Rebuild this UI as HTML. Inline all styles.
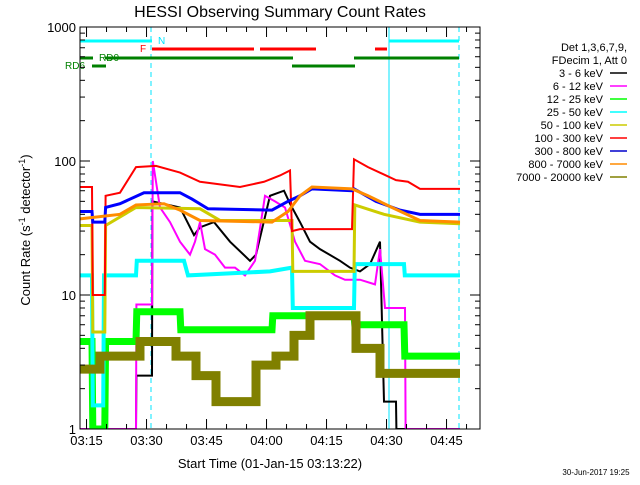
<!DOCTYPE html>
<html><head><meta charset="utf-8"><style>
body{margin:0;background:#fff;}
svg text{font-family:"Liberation Sans",sans-serif;}
</style></head><body>
<svg id="chart" width="640" height="480" viewBox="0 0 640 480">
<rect width="640" height="480" fill="#fff"/>
<text x="280" y="17" font-size="16" text-anchor="middle">HESSI Observing Summary Count Rates</text>
<defs><clipPath id="plotclip"><rect x="80" y="27" width="400" height="402"/></clipPath></defs>
<g id="grid"></g>
<g id="series" clip-path="url(#plotclip)"></g>
<g id="axes"></g>
<g id="legend"></g>
<text x="270" y="468" font-size="13" text-anchor="middle">Start Time (01-Jan-15 03:13:22)</text>
<text x="30" y="230" font-size="13" text-anchor="middle" transform="rotate(-90 30 230)">Count Rate (s<tspan dy="-5" font-size="9">-1</tspan><tspan dy="5"> detector</tspan><tspan dy="-5" font-size="9">-1</tspan><tspan dy="5">)</tspan></text>
<text x="596" y="475" font-size="8" text-anchor="middle">30-Jun-2017 19:25</text>
</svg>
<script>
// time in minutes after 03:13:22
const redT=[0,3,3.2,6.2,6.4,10,14,19,25,30,40,46,50,52.5,53,55,68,68.5,72,79,82,85,95];
const redV=[64,64,10,10,55,58,90,92,82,70,64,70,78,85,30,31,31,103,90,72,70,62,62];
const blueT=[0,3,3.2,6.2,6.4,10,16,25,28,32,48,52,55,58,68,68.5,74,80,85,95];
const blueV=[42,42,35,35,45,48,58,58,52,44,43,50,55,62,60,62,50,43,40,40];
const orangeT=[0,10,14,21,25,30,48,52,55,58,68,72,78,85,95];
const orangeV=[37,40,47,48,43,36,35,42,55,64,62,55,45,36,35];
const yellowT=[0,3,3.2,6.2,6.4,14,30,35,53,53.2,68.5,68.7,76,85,95];
const yellowV=[33,33,5.3,5.3,33,45,44,36,36,15,15,47,40,35,34];
const blackT=[0,14,14.1,18,18.1,25,28.5,30,33.5,37.5,42.5,44,47.5,51,52.5,55,57.5,60,65,67.5,70,72.5,75,76,79,79.1,95];
const blackV=[1,1,2.5,2.5,50,45,28,32,35,25,18,20,55,60,48,35,25,22,18,16,15,17,25,1.6,1.6,1,1];
const magT=[0,14,14.1,18,18.2,20,22.5,25,27.5,28.75,30,31.25,33.75,36.25,38.75,41.25,43.75,46.25,48.75,51.25,53.75,56.25,60,63.75,66.25,70,73.75,75,76.25,81.25,81.4,95];
const magV=[1,1,8.5,8.5,100,45,35,25,20,25,35,22,20,16,16,14,18,55,50,45,25,18,17,14,13,13,12,22,8,8,1,1];
const greenT=[0,3,3.2,6.2,6.4,14,14.2,25,25.2,48,48.2,68.5,68.7,81,81.2,95];
const greenV=[4.5,4.5,1,1,4.5,4.5,7.5,7.5,5.5,5.5,7,7,6,6,3.5,3.5];
const cyanT=[0,3,3.2,5.8,6,14,14.2,26,27,47.5,53,53.2,68.5,68.7,81,81.2,95];
const cyanV=[14,14,1.5,1.5,14,14,18,18,14,15,16,8,8,17,17,14,14];
const oliveT=[0,5,15,24,29,34,44,49,53.5,57.5,69,75,95];
const oliveV=[2.8,3.5,4.5,3.5,2.5,1.6,3,3.5,5,7,4,2.6,2.6];
const xTickLabels=["03:15","03:30","03:45","04:00","04:15","04:30","04:45"];
const yTickLabels=["1","10","100","1000"];
const legendLabels=["3 - 6 keV","6 - 12 keV","12 - 25 keV","25 - 50 keV","50 - 100 keV","100 - 300 keV","300 - 800 keV","800 - 7000 keV","7000 - 20000 keV"];

const NS="http://www.w3.org/2000/svg";
const X0=80,X1=480,Y0=429,DEC=134;
function xs(t){return X0+4*t;}
function ys(v){return Y0-DEC*Math.log10(v);}
function mk(tag,attrs,parent){const e=document.createElementNS(NS,tag);for(const k in attrs)e.setAttribute(k,attrs[k]);parent.appendChild(e);return e;}
const G=document.getElementById('grid'),S=document.getElementById('series'),A=document.getElementById('axes'),L=document.getElementById('legend');

// vertical markers
[[80,'none'],[389,'none'],[151,'5,4'],[459,'5,4']].forEach(([x,d])=>{
  const l=mk('line',{x1:x,x2:x,y1:27,y2:429,stroke:'#00e5ff','stroke-width':1,'stroke-dasharray':d},G);
  
  
});
// status bars
[[80,152,41,'#00ffff'],[389,459,41,'#00ffff'],[152,254,49,'#ff0000'],[260,316,49,'#ff0000'],[375,387,49,'#ff0000'],
 [80,93,58,'#008000'],[105,293,58,'#008000'],[354,459,58,'#008000'],[92,106,66,'#008000'],[292,355,66,'#008000']].forEach(b=>{
  const r=mk('line',{x1:b[0],x2:b[1],y1:b[2],y2:b[2],stroke:b[3],'stroke-width':3},G);
  
  
});
[[158,44,'N','#00e5ff'],[140,52,'F','#ff0000'],[99,61,'RD0','#008000'],[65,69,'RD6','#008000']].forEach(s=>{
  const t=mk('text',{x:s[0],y:s[1],'font-size':10,fill:s[3]},G);t.textContent=s[2];
  
  
});

function line(T,V,color,w,step,name){
  let d='';
  for(let i=0;i<T.length;i++){
    const x=xs(T[i]),y=ys(V[i]);
    if(i===0)d+='M'+x+' '+y;
    else if(step)d+=' L'+x+' '+ys(V[i-1])+' L'+x+' '+y;
    else d+=' L'+x+' '+y;
  }
  const p=mk('path',{d:d,fill:'none',stroke:color,'stroke-width':w},S);
  
  
}
line(blackT,blackV,'#000000',2,false,'series-3-6-kev');
line(magT,magV,'#ff00ff',2,false,'series-6-12-kev');
line(greenT,greenV,'#00ff00',7,false,'series-12-25-kev');
line(cyanT,cyanV,'#00ffff',4,false,'series-25-50-kev');
line(yellowT,yellowV,'#cccc00',3,false,'series-50-100-kev');
line(redT,redV,'#ff0000',2,false,'series-100-300-kev');
line(blueT,blueV,'#0000ff',3,false,'series-300-800-kev');
line(orangeT,orangeV,'#ff8c00',3,false,'series-800-7000-kev');
line(oliveT,oliveV,'#808000',9,true,'series-7000-20000-kev');

// axes box
const box=mk('rect',{x:80,y:27,width:400,height:402,fill:'none',stroke:'#000','stroke-width':1},A);


// x ticks every 5 min from 03:15 (t=1.633)
for(let k=0;k<=19;k++){
  const t=1.633+5*k, x=xs(t); if(x>480)break;
  const len=(k%3===0)?10:5;
  mk('line',{x1:x,x2:x,y1:429,y2:429-len,stroke:'#000'},A);
  mk('line',{x1:x,x2:x,y1:27,y2:27+len,stroke:'#000'},A);
}
xTickLabels.forEach((lab,i)=>{
  const t=mk('text',{x:xs(1.633+15*i),y:445,'font-size':13,'text-anchor':'middle'},A);t.textContent=lab;
  
  
});
for(let d=0;d<3;d++)for(let m=1;m<=9;m++){
  const y=ys(m*Math.pow(10,d)); const len=(m===1)?10:5;
  mk('line',{x1:80,x2:80+len,y1:y,y2:y,stroke:'#000'},A);
  mk('line',{x1:480,x2:480-len,y1:y,y2:y,stroke:'#000'},A);
}
yTickLabels.forEach((lab,i)=>{
  const t=mk('text',{x:76,y:ys(Math.pow(10,i))+5,'font-size':13,'text-anchor':'end'},A);t.textContent=lab;
  
  
});
// legend
const colors=['#000000','#ff00ff','#00ff00','#00ffff','#cccc00','#ff0000','#0000cc','#ff8c00','#808000'];
[['Det 1,3,6,7,9,',51],['FDecim 1, Att 0',64]].forEach(h=>{
  const t=mk('text',{x:627,y:h[1],'font-size':11,'text-anchor':'end'},L);t.textContent=h[0];
  
  
});
legendLabels.forEach((lab,i)=>{
  const y=73+13*i;
  const t=mk('text',{x:603,y:y+4,'font-size':11,'text-anchor':'end'},L);t.textContent=lab;
  
  
  const l=mk('line',{x1:610,x2:627,y1:y,y2:y,stroke:colors[i],'stroke-width':1.5},L);
  
  
});
</script>
</body></html>
